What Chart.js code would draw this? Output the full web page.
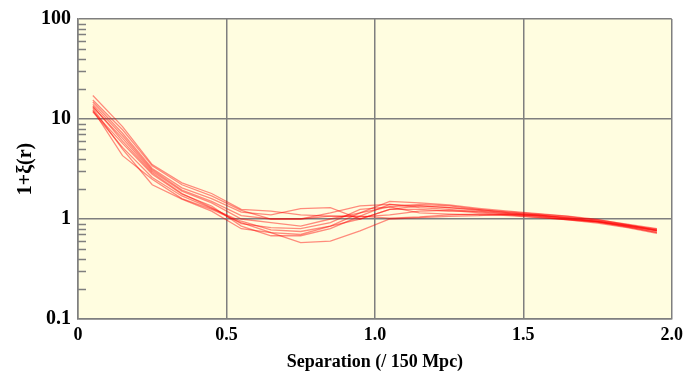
<!DOCTYPE html>
<html>
<head>
<meta charset="utf-8">
<script src="https://cdn.jsdelivr.net/npm/chart.js@4"></script>
<style>
  html, body { margin: 0; padding: 0; background: #fff; }
  #wrap { width: 689px; height: 383px; }
</style>
</head>
<body>
<div id="wrap"><canvas id="xi"></canvas></div>
<script>
// separation bins (/150 Mpc)
const seps = [0.05, 0.15, 0.25, 0.35, 0.45, 0.55, 0.65, 0.75, 0.85, 0.95,
              1.05, 1.15, 1.25, 1.35, 1.45, 1.55, 1.65, 1.75, 1.85, 1.95];

// 1+xi(r), one array per realisation
const run1  = [17.2, 8.4, 3.5, 2.3, 1.8, 1.25, 1.2, 1.1, 1.07, 1.05, 1.1, 1.2, 1.22, 1.15, 1.1, 1.08, 1.04, 0.98, 0.89, 0.8];
const run2  = [14.8, 7.2, 3.2, 2.05, 1.6, 1.17, 1.1, 1.27, 1.3, 1.0, 1.25, 1.35, 1.3, 1.22, 1.15, 1.1, 1.02, 0.95, 0.85, 0.76];
const run3  = [13.2, 6.4, 3.0, 1.9, 1.45, 1.0, 0.92, 0.85, 1.0, 1.15, 1.5, 1.45, 1.38, 1.28, 1.2, 1.13, 1.07, 0.99, 0.88, 0.77];
const run4  = [12.3, 4.3, 2.5, 1.6, 1.25, 0.92, 0.73, 0.58, 0.6, 0.76, 1.0, 1.03, 1.06, 1.08, 1.12, 1.1, 1.03, 0.94, 0.84, 0.73];
const run5  = [12.0, 5.7, 2.8, 1.77, 1.35, 0.85, 0.68, 0.68, 0.8, 1.07, 1.4, 1.35, 1.3, 1.24, 1.18, 1.12, 1.06, 0.97, 0.87, 0.78];
const run6  = [13.5, 6.0, 2.9, 1.8, 1.3, 0.9, 0.82, 0.8, 0.92, 1.25, 1.32, 1.4, 1.35, 1.25, 1.16, 1.09, 1.01, 0.93, 0.83, 0.74];
const run7  = [11.8, 5.2, 2.6, 1.7, 1.28, 0.95, 0.78, 0.75, 0.85, 1.0, 1.25, 1.25, 1.2, 1.2, 1.13, 1.07, 1.0, 0.94, 0.86, 0.77];
const run8  = [14.0, 6.8, 3.1, 1.95, 1.5, 1.08, 1.0, 1.0, 1.15, 1.35, 1.4, 1.3, 1.25, 1.18, 1.12, 1.06, 0.98, 0.91, 0.82, 0.72];
const run9  = [12.8, 5.0, 2.2, 1.58, 1.2, 0.8, 0.73, 0.7, 0.85, 1.15, 1.32, 1.15, 1.12, 1.1, 1.1, 1.04, 0.98, 0.93, 0.85, 0.76];
const run10 = [15.5, 7.8, 3.4, 2.2, 1.7, 1.22, 1.0, 1.0, 1.07, 1.07, 1.02, 1.05, 1.1, 1.12, 1.08, 1.03, 0.99, 0.95, 0.87, 0.79];
const runs = [run1, run2, run3, run4, run5, run6, run7, run8, run9, run10];

const xTicks = [0, 0.5, 1.0, 1.5, 2.0];
const yTicks = [0.1, 1, 10, 100];

const serif = "'Liberation Serif', 'Times New Roman', serif";
const gridGray = "#7f7f7f";

// pale yellow plot area
const plotBg = {
  id: "plotBg",
  beforeDraw(chart) {
    const a = chart.chartArea, c = chart.ctx;
    c.save();
    c.fillStyle = "#fffde0";
    c.fillRect(a.left, a.top, a.right - a.left, a.bottom - a.top);
    c.restore();
  }
};

// small inward minor ticks on the log axis
const minorTicks = {
  id: "minorTicks",
  afterDraw(chart) {
    const y = chart.scales.y, a = chart.chartArea, c = chart.ctx;
    c.save();
    c.strokeStyle = gridGray;
    c.lineWidth = 1.5;
    c.beginPath();
    for (let d = 0; d < yTicks.length - 1; d++) {
      for (let k = 2; k <= 9; k++) {
        const py = Math.round(y.getPixelForValue(yTicks[d] * k)) + 0.5;
        c.moveTo(a.left, py);
        c.lineTo(a.left + 8, py);
      }
    }
    c.stroke();
    c.restore();
  }
};

new Chart(document.getElementById("xi"), {
  type: "line",
  data: {
    datasets: runs.map(r => ({
      data: seps.map((s, i) => ({ x: s, y: r[i] })),
      borderColor: "rgba(255, 0, 0, 0.45)",
      borderWidth: 1.3,
      pointRadius: 0,
      tension: 0,
      fill: false
    }))
  },
  options: {
    responsive: true,
    maintainAspectRatio: false,
    animation: false,
    layout: { padding: { top: 17, right: 13, left: 0, bottom: 0 } },
    plugins: { legend: { display: false }, tooltip: { enabled: false } },
    scales: {
      x: {
        type: "linear",
        min: 0,
        max: 2,
        afterBuildTicks: s => { s.ticks = xTicks.map(v => ({ value: v })); },
        afterFit: s => { s.height = 64; },
        ticks: {
          autoSkip: false,
          maxRotation: 0,
          padding: 6,
          color: "#000",
          font: { family: serif, size: 18, weight: "bold" },
          callback: v => (v === 0 ? "0" : v.toFixed(1))
        },
        grid: { color: gridGray, lineWidth: 1.5, drawTicks: false },
        border: { color: gridGray, width: 1.5 },
        title: {
          display: true,
          text: "Separation (/ 150 Mpc)",
          color: "#000",
          font: { family: serif, size: 18, weight: "bold" },
          padding: { top: 0, bottom: 10 }
        }
      },
      y: {
        type: "logarithmic",
        min: 0.1,
        max: 100,
        afterBuildTicks: s => { s.ticks = yTicks.map(v => ({ value: v, major: true })); },
        afterFit: s => { s.width = 78; },
        ticks: {
          autoSkip: false,
          padding: 7,
          color: "#000",
          font: { family: serif, size: 20, weight: "bold" },
          callback: v => String(v)
        },
        grid: { color: gridGray, lineWidth: 1.5, drawTicks: false },
        border: { color: gridGray, width: 1.5 },
        title: {
          display: true,
          text: "1+ξ(r)",
          color: "#000",
          font: { family: serif, size: 20, weight: "bold" },
          padding: { top: 14, bottom: 0 }
        }
      }
    }
  },
  plugins: [plotBg, minorTicks]
});
</script>
</body>
</html>
